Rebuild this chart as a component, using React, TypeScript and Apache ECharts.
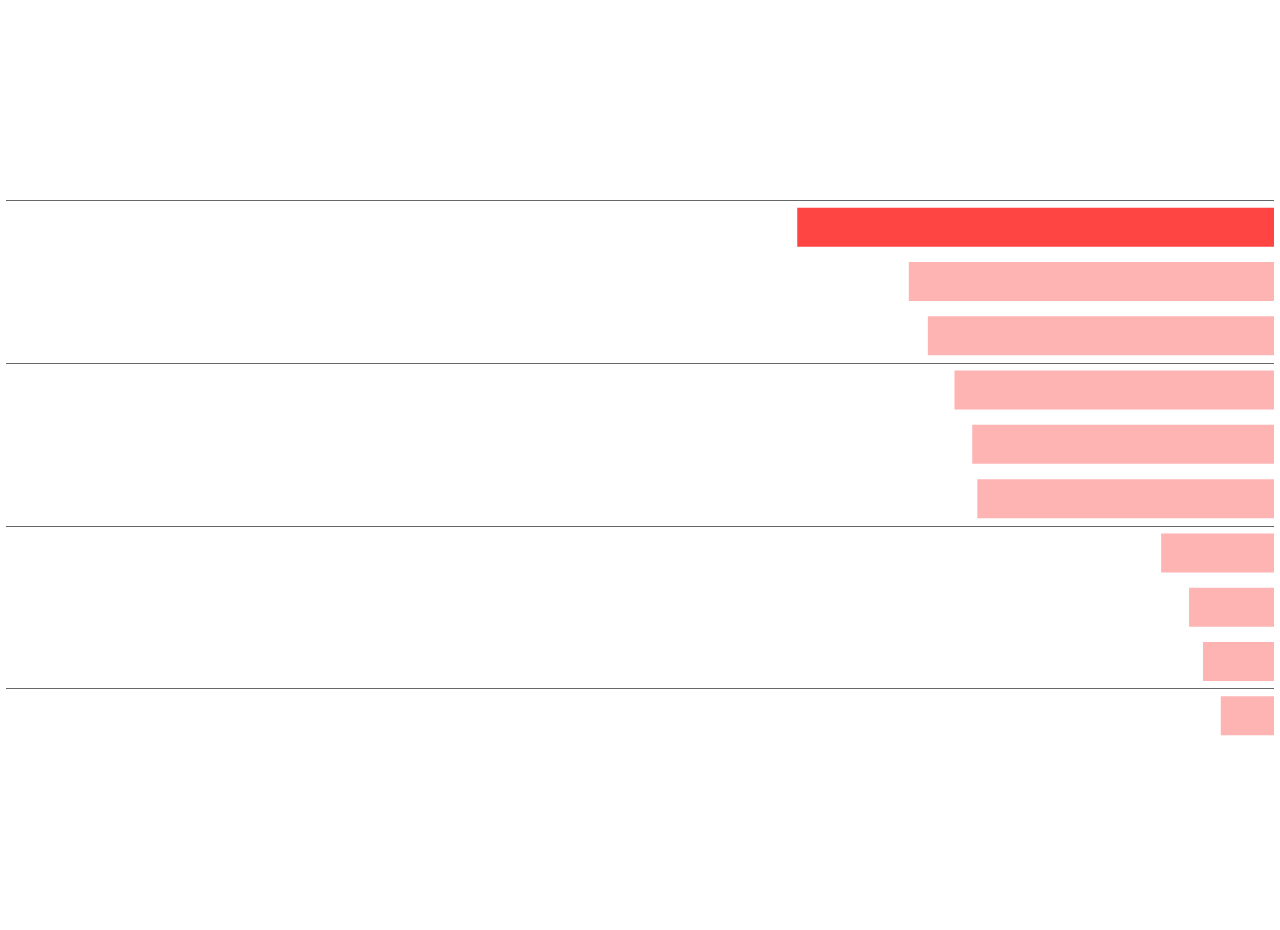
import React, { useEffect, useRef } from "react";
import * as echarts from "echarts";

const categories = ["1", "2", "3", "4", "5", "6", "7", "8", "9", "10"];
const values = [37.6, 28.8, 27.3, 25.2, 23.8, 23.4, 8.9, 6.7, 5.6, 4.2];
const highlightIndex = 0;
const axisMax = 100;

export default function App() {
  const ref = useRef<HTMLDivElement>(null);
  useEffect(() => {
    if (!ref.current) return;
    const chart = echarts.init(ref.current, undefined, { renderer: "svg" });
    chart.setOption({
      animation: false,
      backgroundColor: "#ffffff",
      grid: { left: 6, right: 6, top: 200, bottom: 187, containLabel: false },
      xAxis: {
        type: "value",
        inverse: true,
        min: 0,
        max: axisMax,
        show: false,
        splitLine: { show: false },
      },
      yAxis: {
        type: "category",
        data: categories,
        inverse: true,
        axisLine: { show: false },
        axisTick: { show: false },
        axisLabel: { show: false },
        splitLine: {
          show: true,
          interval: 2,
          showMaxLine: false,
          lineStyle: { color: "#666666", width: 1 },
        },
      },
      series: [
        {
          type: "bar",
          barWidth: 39,
          data: values.map((v, i) => ({
            value: v,
            itemStyle: {
              color: "#FF4444",
              opacity: i === highlightIndex ? 1 : 0.4,
            },
          })),
        },
      ],
    });
    return () => chart.dispose();
  }, []);
  return (
    <div
      ref={ref}
      style={{ position: "absolute", left: 0, top: 0, width: 1280, height: 930 }}
    />
  );
}
